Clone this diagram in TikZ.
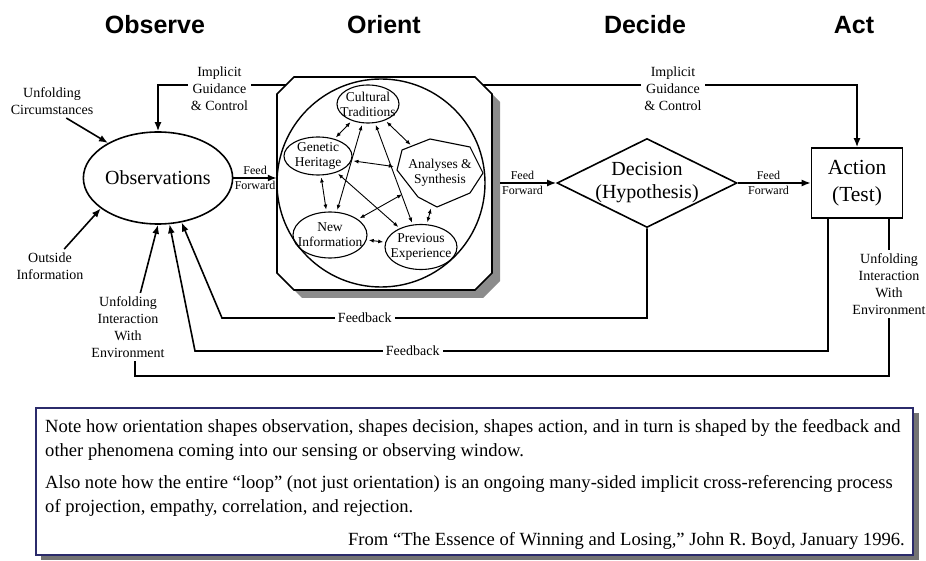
\documentclass[tikz,border=0pt]{standalone}
\usepackage{fontspec}
\setmainfont{Liberation Serif}
\newfontfamily\titlefont{Liberation Sans}
\usetikzlibrary{arrows.meta,shapes.geometric}

\definecolor{navy}{HTML}{2B2B6B}
\tikzset{
  flow/.style={line width=1.6pt, -{Latex[length=9pt,width=7pt]}},
  link/.style={line width=1.6pt},
  blob/.style={draw, ellipse, line width=1.1pt, inner sep=0pt},
  lbl/.style={align=center, font=\fontsize{13.5}{15}\selectfont},
  mini/.style={{Latex[length=5pt,width=4pt]}-{Latex[length=5pt,width=4pt]}, line width=0.9pt, shorten >=2pt, shorten <=2pt},
  ffwd/.style={align=center, font=\fontsize{12}{15}\selectfont},
  cue/.style={align=center, font=\fontsize{14}{17}\selectfont},
  heading/.style={font=\titlefont\bfseries\fontsize{25}{30}\selectfont},
  note/.style={align=left, inner sep=0pt, font=\fontsize{18.6}{24}\selectfont},
}

\begin{document}
\begin{tikzpicture}[x=1pt, y=-1pt]
  \useasboundingbox (0,0) rectangle (926,561);

  % column headings
  \node[heading] (hobs) at (155,25) {Observe};
  \node[heading] (hori) at (384,25) {Orient};
  \node[heading] (hdec) at (645,25) {Decide};
  \node[heading] (hact) at (854,25) {Act};

  % observe
  \node[draw, ellipse, line width=1.6pt, minimum width=120pt, minimum height=92pt, inner sep=0pt,
        font=\fontsize{20}{24}\selectfont] (obs) at (158,178) {Observations};
  \node[cue] (circ) at (52,101) {Unfolding\\Circumstances};
  \node[cue] (outinfo) at (50,266) {Outside\\Information};
  \node[cue] (envl) at (128,327) {Unfolding\\Interaction\\With\\Environment};

  % orient box with its shadow
  \fill[black!45, shift={(8,8)}] (277,94) -- (294,77) -- (475,77) -- (492,94) -- (492,273)
    -- (475,290) -- (294,290) -- (277,273) -- cycle;
  \draw[fill=white, line width=1.6pt] (277,94) -- (294,77) -- (475,77) -- (492,94) -- (492,273)
    -- (475,290) -- (294,290) -- (277,273) -- cycle;
  \node[minimum width=215pt, minimum height=213pt] (orient) at (384.5,183.5) {};
  \node[draw, circle, line width=1.4pt, minimum size=208pt] (mind) at (381,183) {};
  \coordinate (gdl) at (286,85);
  \coordinate (gdr) at (483,85);
  \coordinate (orshadow) at (500,183);

  \node[blob, minimum width=62pt, minimum height=38pt, label={[lbl]center:{Cultural\\Traditions}}] (ct) at (368,104) {};
  \node[blob, minimum width=68pt, minimum height=38pt, label={[lbl]center:{Genetic\\Heritage}}] (gh) at (318,156) {};
  \node[blob, minimum width=74pt, minimum height=46pt, label={[lbl]center:{New\\Information}}] (ni) at (330,235) {};
  \node[blob, minimum width=72pt, minimum height=45pt, label={[lbl]center:{Previous\\Experience}}] (pe) at (421,247) {};
  \node[ellipse, minimum width=86pt, minimum height=68pt, inner sep=0pt, lbl] (as) at (440,173) {Analyses \&\\Synthesis};
  \draw[line width=1.1pt] (402,150) -- (430,139) -- (470,147) -- (483,173) -- (470,193)
    -- (437,207) -- (418,197) -- (397,170) -- cycle;

  \draw[mini] (ct) -- (gh);
  \draw[mini] (ct) -- (as);
  \draw[mini] (ct) -- (ni);
  \draw[mini] (ct) -- (pe);
  \draw[mini] (gh) -- (as);
  \draw[mini] (gh) -- (ni);
  \draw[mini] (gh) -- (pe);
  \draw[mini] (as) -- (ni);
  \draw[mini] (as) -- (pe);
  \draw[mini] (ni) -- (pe);

  % decide and act
  \node[draw, diamond, line width=1.6pt, minimum width=180pt, minimum height=89pt, inner sep=0pt,
        label={[align=center, font=\fontsize{20}{23}\selectfont]center:{Decision\\(Hypothesis)}}] (dec) at (647,183) {};
  \node[draw, line width=1.6pt, minimum width=91pt, minimum height=70pt, align=center,
        font=\fontsize{21.5}{27}\selectfont] (act) at (857,183) {Action\\(Test)};
  \node[cue] (envr) at (889,284) {Unfolding\\Interaction\\With\\Environment};

  % feed forward
  \draw[flow] (obs.east) -- node[ffwd] {Feed\\Forward} (obs.east -| orient.west);
  \draw[flow] (orshadow) -- node[ffwd, pos=0.4] {Feed\\Forward} (dec.west);
  \draw[flow] (dec.east) -- node[ffwd, pos=0.42] {Feed\\Forward} (act.west);

  % guidance and control
  \draw[flow] (gdl) -| node[cue, fill=white, pos=0.26, yshift=-4pt] {Implicit\\Guidance\\\& Control} (obs.north);
  \draw[flow] (gdr) -| node[cue, fill=white, pos=0.254, yshift=-4pt] {Implicit\\Guidance\\\& Control} (act.north);

  % feedback loops
  \coordinate (fbone) at (222,318);
  \coordinate (fbtwo) at (195,351);
  \coordinate (loop) at (135,376);
  \draw[flow] (dec.south) |- node[cue, fill=white, pos=0.832] {Feedback} (fbone) -- (obs.-62);
  \draw[flow] ([xshift=-29pt]act.south) |- node[cue, fill=white, pos=0.828] {Feedback} (fbtwo) -- (obs.-76);
  \draw[link] ([xshift=32pt]act.south) -- (envr);
  \draw[link] (envr) |- (loop) -- (envl.south -| loop);

  % outside inputs
  \draw[flow] (circ.-50) -- (obs.145);
  \draw[flow] (outinfo.50) -- (obs.208);
  \draw[flow] (envl.70) -- (obs.-90);

  % note
  \fill[black!55] (41,413) rectangle (919,560);
  \draw[navy, line width=1.6pt, fill=white] (36,408) rectangle (913,555);
  \node[note, anchor=west] (notea) at (45,440) {Note how orientation shapes observation, shapes decision, shapes action, and in turn is shaped by the feedback and\\other phenomena coming into our sensing or observing window.};
  \node[note, anchor=west] (noteb) at (45,496) {Also note how the entire ``loop'' (not just orientation) is an ongoing many-sided implicit cross-referencing process\\of projection, empathy, correlation, and rejection.};
  \node[note, anchor=east] (source) at (905,541) {From ``The Essence of Winning and Losing,'' John R. Boyd, January 1996.};
\end{tikzpicture}
\end{document}
